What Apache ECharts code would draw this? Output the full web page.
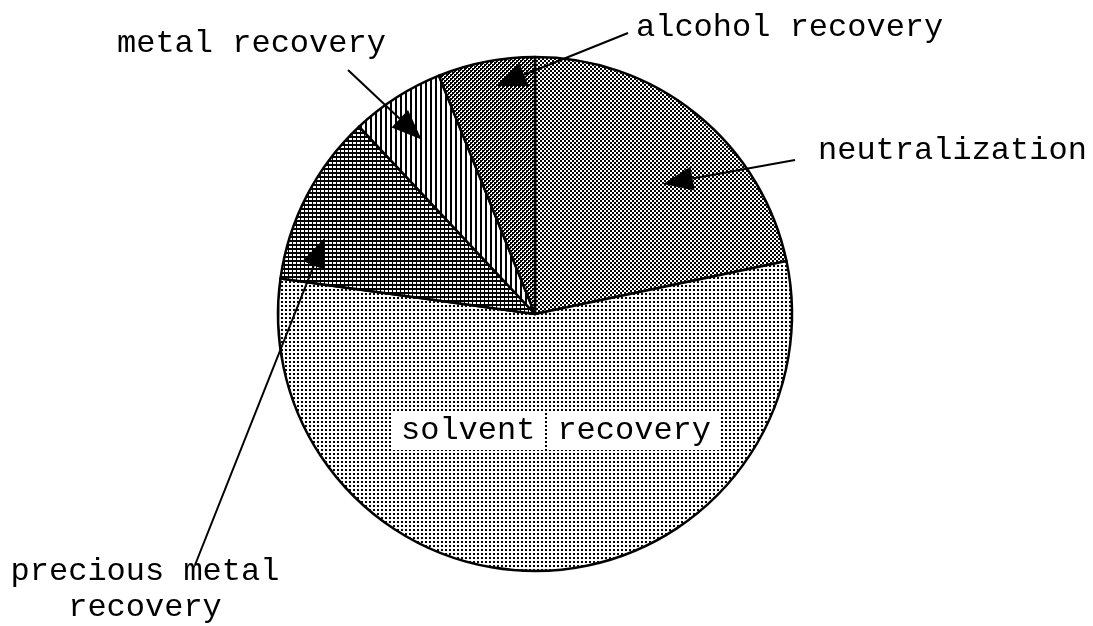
<!DOCTYPE html>
<html>
<head>
<meta charset="utf-8">
<title>recovery pie</title>
<script src="https://cdn.jsdelivr.net/npm/echarts@6/dist/echarts.min.js"></script>
<style>
  html, body { margin: 0; padding: 0; background: #fff; }
  #main { width: 1093px; height: 626px; }
</style>
</head>
<body>
<div id="main"></div>
<script>
// data, clockwise from 12 o'clock
var categories = ['neutralization', 'solvent recovery', 'precious metal recovery', 'metal recovery', 'alcohol recovery'];
var values = [21.7, 55.5, 10.8, 5.9, 6.1];
var labelTexts = ['neutralization', '{b|solvent}{s|}{b|recovery}', 'precious metal\nrecovery', 'metal recovery', 'alcohol recovery'];

var CENTER = [535, 314];
var RADIUS = 257;
var FONT = '"Liberation Mono", "Courier New", monospace';

// label anchor [x, y, align]
var labelPos = [
  [818, 151, 'left'],
  [556, 431, 'center'],
  [145, 590, 'center'],
  [117, 44, 'left'],
  [636, 28, 'left']
];

// arrows: slice index, fraction across slice, fraction of radius, tail point
var arrows = [
  { idx: 0, t: 0.57, r: 0.71, tail: [795, 160] },
  { idx: 2, t: 0.31, r: 0.87, tail: [195, 565] },
  { idx: 3, t: 0.48, r: 0.81, tail: [348, 70] },
  { idx: 4, t: 0.56, r: 0.90, tail: [628, 33] }
];

/**
 * 画填充图案（黑白网点）
 */
function makePattern(w, h, draw) {
  var c = document.createElement('canvas');
  c.width = w;
  c.height = h;
  var ctx = c.getContext('2d');
  ctx.fillStyle = '#fff';
  ctx.fillRect(0, 0, w, h);
  ctx.fillStyle = '#000';
  draw(ctx);
  return { image: c, repeat: 'repeat' };
}

var patterns = [
  // neutralization - fine checker
  makePattern(4, 4, function (ctx) {
    ctx.fillRect(0, 0, 2, 2);
    ctx.fillRect(2, 2, 2, 2);
  }),
  // solvent - sparse dots
  makePattern(4, 4, function (ctx) {
    ctx.fillRect(1, 1, 2, 2);
  }),
  // precious metal - grid
  makePattern(4, 4, function (ctx) {
    ctx.fillRect(0, 0, 4, 2);
    ctx.fillRect(0, 0, 1, 4);
  }),
  // metal - vertical stripes
  makePattern(5, 5, function (ctx) {
    ctx.fillRect(0, 0, 2, 5);
  }),
  // alcohol - dark checker
  makePattern(4, 4, function (ctx) {
    ctx.fillRect(0, 0, 2, 2);
    ctx.fillRect(2, 2, 2, 2);
    ctx.fillRect(2, 0, 1, 1);
    ctx.fillRect(0, 2, 1, 1);
  })
];

var total = values.reduce(function (a, b) { return a + b; }, 0);

// angle (deg, clockwise from top) inside slice i
function sliceAngle(i, t) {
  var start = 0;
  for (var k = 0; k < i; k++) start += values[k] / total * 360;
  return start + t * values[i] / total * 360;
}

function polar(deg, frac) {
  var a = deg * Math.PI / 180;
  return [CENTER[0] + Math.sin(a) * RADIUS * frac, CENTER[1] - Math.cos(a) * RADIUS * frac];
}

// arrows with filled heads
var graphics = [];
arrows.forEach(function (ar) {
  var tip = polar(sliceAngle(ar.idx, ar.t), ar.r);
  var dx = tip[0] - ar.tail[0], dy = tip[1] - ar.tail[1];
  var len = Math.sqrt(dx * dx + dy * dy);
  var ux = dx / len, uy = dy / len;
  var hl = 30, hw = 12;
  var bx = tip[0] - ux * hl, by = tip[1] - uy * hl;
  graphics.push({
    type: 'line', z: 100, silent: true,
    shape: { x1: ar.tail[0], y1: ar.tail[1], x2: bx, y2: by },
    style: { stroke: '#000', lineWidth: 2 }
  });
  graphics.push({
    type: 'polygon', z: 100, silent: true,
    shape: { points: [tip, [bx - uy * hw, by + ux * hw], [bx + uy * hw, by - ux * hw]] },
    style: { fill: '#000' }
  });
});

var chart = echarts.init(document.getElementById('main'), null, { renderer: 'canvas' });

var option = {
  backgroundColor: '#fff',
  animation: false,
  graphic: graphics,
  series: [{
    type: 'pie',
    center: CENTER,
    radius: RADIUS,
    startAngle: 90,
    clockwise: true,
    silent: true,
    avoidLabelOverlap: false,
    itemStyle: { borderColor: '#000', borderWidth: 2.5 },
    label: {
      show: true,
      position: 'inside',
      color: '#000',
      fontFamily: FONT,
      fontSize: 32,
      lineHeight: 36,
      formatter: function (p) { return labelTexts[p.dataIndex]; },
      rich: {
        b: { backgroundColor: '#fff', padding: [3, 9], fontFamily: FONT, fontSize: 32, color: '#000' },
        s: { width: 4 }
      }
    },
    labelLine: { show: false },
    labelLayout: function (params) {
      var p = labelPos[params.dataIndex];
      return { x: p[0], y: p[1], align: p[2], verticalAlign: 'middle' };
    },
    data: categories.map(function (name, i) {
      return { name: name, value: values[i], itemStyle: { color: patterns[i] } };
    })
  }]
};

chart.setOption(option);
</script>
</body>
</html>
